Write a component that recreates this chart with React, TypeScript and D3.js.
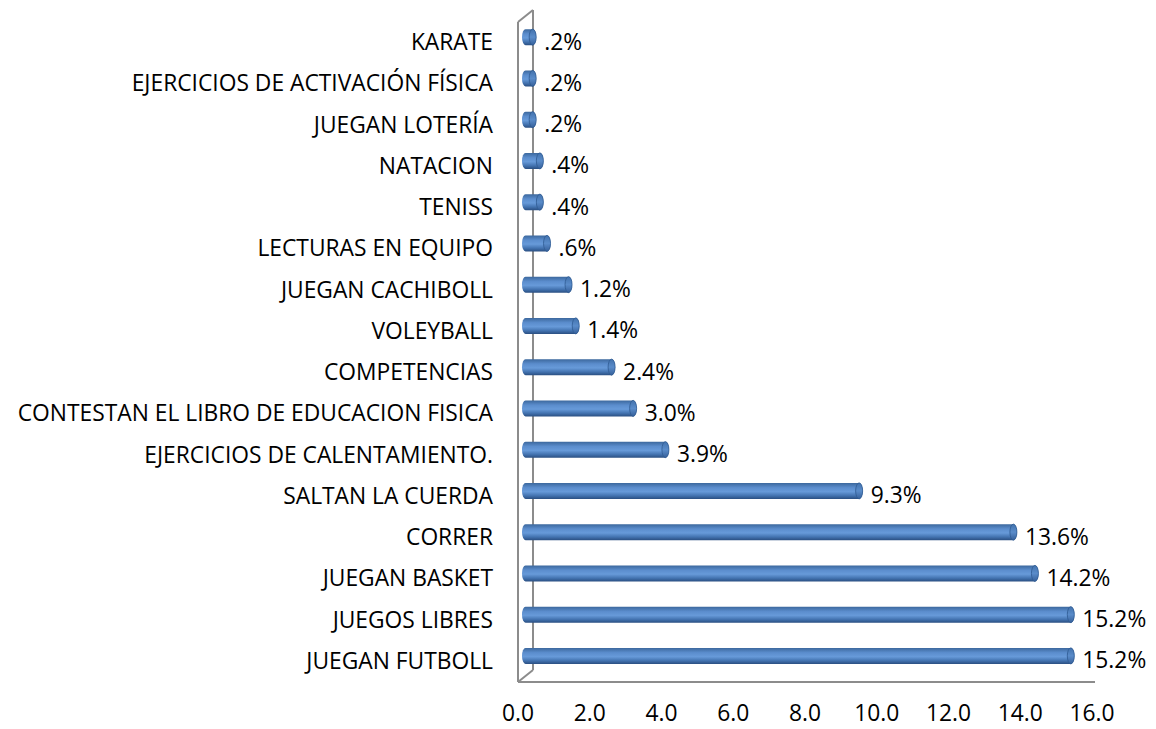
import React from "react";
import * as d3 from "d3";

const categories = [
  "KARATE",
  "EJERCICIOS DE ACTIVACIÓN FÍSICA",
  "JUEGAN LOTERÍA",
  "NATACION",
  "TENISS",
  "LECTURAS EN EQUIPO",
  "JUEGAN CACHIBOLL",
  "VOLEYBALL",
  "COMPETENCIAS",
  "CONTESTAN EL LIBRO DE EDUCACION FISICA",
  "EJERCICIOS DE CALENTAMIENTO.",
  "SALTAN LA CUERDA",
  "CORRER",
  "JUEGAN BASKET",
  "JUEGOS LIBRES",
  "JUEGAN FUTBOLL",
];
const values = [0.2, 0.2, 0.2, 0.4, 0.4, 0.6, 1.2, 1.4, 2.4, 3.0, 3.9, 9.3, 13.6, 14.2, 15.2, 15.2];
const ticks = [0, 2, 4, 6, 8, 10, 12, 14, 16];

const W = 1156;
const H = 729;
const FONT = "'Open Sans', Lato, sans-serif";
const FS = 22.8;

export default function App() {
  const x = d3.scaleLinear().domain([0, 16]).range([518, 1092]);
  const y = d3.scaleBand<string>().domain(categories).range([22, 682]);
  const depthX = 15;
  const depthY = -12;
  const bdx = 7.5;
  const bdy = -5.5;
  const barH = 16;
  const rx = 3.5;
  const fmtVal = (v: number) => d3.format(".1f")(v).replace(/^0\./, ".") + "%";
  const fmtTick = d3.format(".1f");
  const axisColor = "#8c8c8c";
  const x0 = x(0);
  const yTop = y.range()[0];
  const yBot = y.range()[1];

  return (
    <svg width={W} height={H} style={{ position: "absolute", left: 0, top: 0, background: "#fff" }}>
      <defs>
        <linearGradient id="cyl" x1="0" y1="0" x2="0" y2="1">
          <stop offset="0" stopColor="#3b679c" />
          <stop offset="0.3" stopColor="#5b8dcd" />
          <stop offset="0.55" stopColor="#679ad9" />
          <stop offset="0.8" stopColor="#4373b0" />
          <stop offset="1" stopColor="#2b5083" />
        </linearGradient>
        <linearGradient id="cap" x1="0" y1="0" x2="0" y2="1">
          <stop offset="0" stopColor="#4272ad" />
          <stop offset="0.5" stopColor="#5a8cca" />
          <stop offset="1" stopColor="#36609a" />
        </linearGradient>
      </defs>
      {/* walls */}
      <g stroke={axisColor} strokeWidth={2} fill="none">
        <line x1={x0} y1={yTop} x2={x0} y2={yBot} />
        <line x1={x0 + depthX} y1={yTop + depthY} x2={x0 + depthX} y2={yBot + depthY} />
        <line x1={x0} y1={yTop} x2={x0 + depthX} y2={yTop + depthY} />
        <line x1={x0} y1={yBot} x2={x0 + depthX} y2={yBot + depthY} />
        <line x1={x0} y1={yBot} x2={x(16) + 3} y2={yBot} />
      </g>
      {/* bars */}
      {categories.map((c, i) => {
        const cy = (y(c) as number) + y.bandwidth() / 2 + bdy;
        const xs = x0 + bdx;
        const xe = x(values[i]) + bdx;
        const yt = cy - barH / 2;
        const yb = cy + barH / 2;
        const body = `M${xs},${yt} L${xe},${yt} A${rx},${barH / 2} 0 0 1 ${xe},${yb} L${xs},${yb} A${rx},${barH / 2} 0 0 1 ${xs},${yt} Z`;
        return (
          <g key={c}>
            <path d={body} fill="url(#cyl)" />
            <ellipse cx={xe} cy={cy} rx={rx} ry={barH / 2} fill="url(#cap)" stroke="#2f5a92" strokeWidth={0.8} />
            <text
              x={xe + rx + 8}
              y={cy + 6.5}
              fontFamily={FONT}
              fontSize={FS}
              fill="#000"
              dominantBaseline="middle"
            >
              {fmtVal(values[i])}
            </text>
          </g>
        );
      })}
      {/* category labels */}
      {categories.map((c) => (
        <text
          key={c}
          x={493}
          y={(y(c) as number) + y.bandwidth() / 2 + 1.5}
          textAnchor="end"
          dominantBaseline="middle"
          fontFamily={FONT}
          fontSize={FS}
          fill="#000"
        >
          {c}
        </text>
      ))}
      {/* x tick labels */}
      {ticks.map((t) => (
        <text
          key={t}
          x={x(t)}
          y={715}
          textAnchor="middle"
          dominantBaseline="middle"
          fontFamily={FONT}
          fontSize={FS}
          fill="#000"
        >
          {fmtTick(t)}
        </text>
      ))}
    </svg>
  );
}
